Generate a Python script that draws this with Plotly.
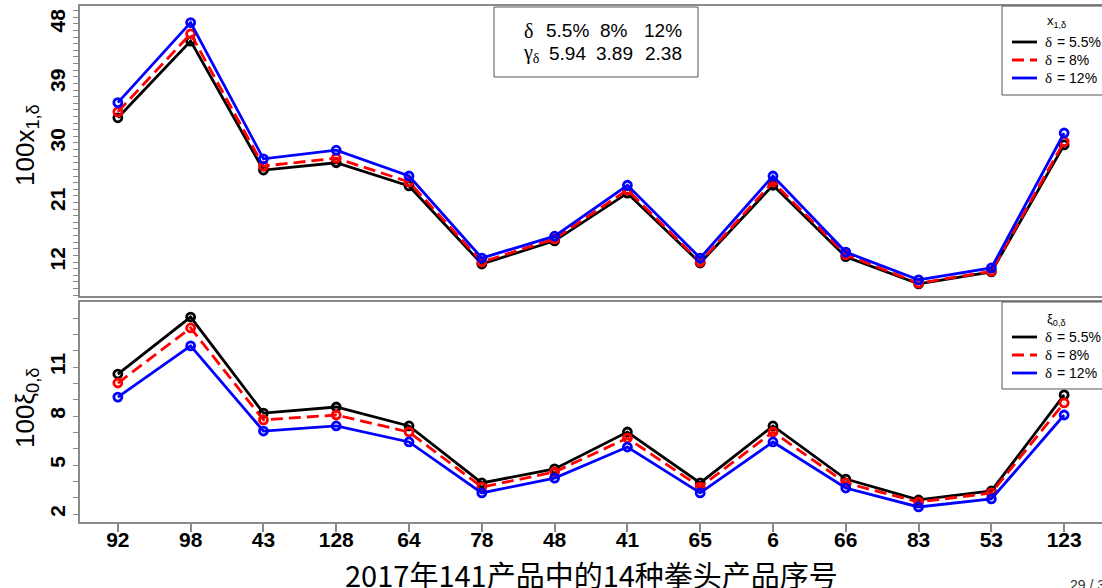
import plotly.graph_objects as go

# ---- data -------------------------------------------------------------
categories = ["92", "98", "43", "128", "64", "78", "48", "41", "65", "6", "66", "83", "53", "123"]
series_values = ["5.5%", "8%", "12%"]

# 100 * x_{1,delta}
x1_d055 = [33.8, 45.4, 25.9, 27.0, 23.5, 11.7, 15.2, 22.4, 11.85, 23.6, 12.8, 8.7, 10.5, 29.7]
x1_d080 = [34.7, 46.5, 26.5, 27.7, 24.1, 12.0, 15.5, 22.9, 12.0, 24.1, 13.1, 8.8, 10.6, 30.2]
x1_d120 = [36.1, 48.2, 27.6, 28.9, 25.0, 12.6, 15.9, 23.6, 12.6, 25.0, 13.5, 9.3, 11.1, 31.5]

# 100 * xi_{0,delta}
xi_d055 = [10.57, 14.06, 8.18, 8.55, 7.39, 3.90, 4.76, 7.02, 3.90, 7.39, 4.14, 2.86, 3.41, 9.29]
xi_d080 = [10.02, 13.39, 7.76, 8.06, 7.02, 3.65, 4.57, 6.65, 3.65, 7.02, 3.90, 2.73, 3.29, 8.80]
xi_d120 = [9.16, 12.29, 7.08, 7.39, 6.41, 3.29, 4.20, 6.10, 3.29, 6.41, 3.59, 2.43, 2.92, 8.06]

# gamma_delta table
gamma_values = [5.94, 3.89, 2.38]

x1_ticks = [12, 21, 30, 39, 48]
xi_ticks = [2, 5, 8, 11]

# ---- styling ----------------------------------------------------------
W, H = 1102, 588
ML, MR, MT, MB = 80, 0, 6, 66
PW, PH = W - ML - MR, H - MT - MB
colors = ["#000000", "#ff0000", "#0000ff"]
dashes = ["solid", "12px,6px", "solid"]
GREY = "#8a8a8a"
SANS = "Liberation Sans"
SERIF = "Liberation Serif"
CJK = "Noto Sans CJK SC"


def px(x):
    return (x - ML) / PW


def py(y):
    return (MT + PH - y) / PH


def label(x, y, text, size, family=SANS, xanchor="center", angle=0, color="black"):
    return dict(x=px(x), y=py(y), xref="paper", yref="paper", showarrow=False,
                xanchor=xanchor, yanchor="middle", text=text, textangle=angle,
                font=dict(family=family, size=size, color=color))


xs = list(range(1, len(categories) + 1))
fig = go.Figure()

panels = [("x", "y", [x1_d055, x1_d080, x1_d120]),
          ("x2", "y2", [xi_d055, xi_d080, xi_d120])]
for xa, ya, group in panels:
    for vals, c, d in zip(group, colors, dashes):
        fig.add_trace(go.Scatter(
            x=xs, y=vals, mode="lines+markers", xaxis=xa, yaxis=ya,
            line=dict(color=c, width=2.8, dash=d),
            marker=dict(symbol="circle-open", size=8, color=c,
                        line=dict(width=2.8, color=c)),
            showlegend=False))

top_dom = [py(296), 1.0]
bot_dom = [0.0, py(302)]
xr = [0.48, 14.52]

axis_common = dict(showline=True, linecolor=GREY, linewidth=1.5, showgrid=False, zeroline=False)
tick_font = dict(family=SANS, size=21, color="black", weight="bold")

fig.update_layout(
    width=W, height=H,
    margin=dict(l=ML, r=MR, t=MT, b=MB),
    paper_bgcolor="white", plot_bgcolor="white",
    xaxis=dict(domain=[0, 1], anchor="y", range=xr, mirror=True, showticklabels=False,
               ticks="", **axis_common),
    xaxis2=dict(domain=[0, 1], anchor="y2", range=xr, mirror=True,
                tickmode="array", tickvals=xs, ticktext=categories,
                ticks="outside", ticklen=8, tickwidth=1.5, tickcolor=GREY,
                ticklabelstandoff=-10,
                tickfont=tick_font, **axis_common),
    yaxis=dict(domain=top_dom, anchor="x", range=[6.86, 50.7],
               tickmode="array", tickvals=x1_ticks, tickangle=-90,
               ticks="outside", ticklen=5, tickwidth=1, tickcolor=GREY,
               minor=dict(tickmode="array", tickvals=list(range(7, 51)), ticks="outside",
                          ticklen=5, tickwidth=1, tickcolor=GREY),
               tickfont=tick_font, **axis_common),
    yaxis2=dict(domain=bot_dom, anchor="x2", range=[1.51, 14.98],
                tickmode="array", tickvals=xi_ticks, tickangle=-90,
                ticks="outside", ticklen=5, tickwidth=1, tickcolor=GREY,
                minor=dict(tickmode="array", tickvals=list(range(2, 15)), ticks="outside",
                           ticklen=5, tickwidth=1, tickcolor=GREY),
                tickfont=tick_font, **axis_common),
)

shapes = []
ann = []

# axis titles
ann.append(label(26, 145, "100x<sub>1,δ</sub>", 26, angle=-90))
ann.append(label(26, 408, "100ξ<sub>0,δ</sub>", 26, angle=-90))
ann.append(label(591, 574, "2017年141产品中的14种拳头产品序号", 29, family=CJK))
ann.append(label(1068, 585, "29 / 39", 14, xanchor="left", color="#333333"))

# gamma table
shapes.append(dict(type="rect", xref="paper", yref="paper",
                   x0=px(494), x1=px(698), y0=py(77), y1=py(7),
                   line=dict(color="#555555", width=1), fillcolor="white"))
ann.append(label(528, 31, "δ", 20, family=SERIF))
ann.append(label(531, 53, "γ<sub>δ</sub>", 20, family=SERIF))
col_x = [567, 614, 663]
for cx, dl, gv in zip(col_x, series_values, gamma_values):
    ann.append(label(cx, 31, dl, 19))
    ann.append(label(cx, 53, f"{gv:.2f}", 19))


# legend boxes
def legend_box(top, bottom, title, title_y, rows_y):
    shapes.append(dict(type="rect", xref="paper", yref="paper",
                       x0=px(1002), x1=px(1115), y0=py(bottom), y1=py(top),
                       line=dict(color="#555555", width=1), fillcolor="white"))
    ann.append(label(1045, title_y, title, 13, xanchor="left"))
    for ry, c, d, sv in zip(rows_y, colors, dashes, series_values):
        shapes.append(dict(type="line", xref="paper", yref="paper",
                           x0=px(1012), x1=px(1037), y0=py(ry), y1=py(ry),
                           line=dict(color=c, width=2.8, dash=d)))
        ann.append(label(1043, ry, "δ", 15, family=SERIF, xanchor="left"))
        ann.append(label(1055, ry, "= " + sv, 14, xanchor="left"))


legend_box(6, 95, "x<sub>1,δ</sub>", 21, [42, 60, 78])
legend_box(302, 389, "ξ<sub>0,δ</sub>", 319, [337, 355, 373])

fig.update_layout(shapes=shapes, annotations=ann)
fig.write_html("out.html")
